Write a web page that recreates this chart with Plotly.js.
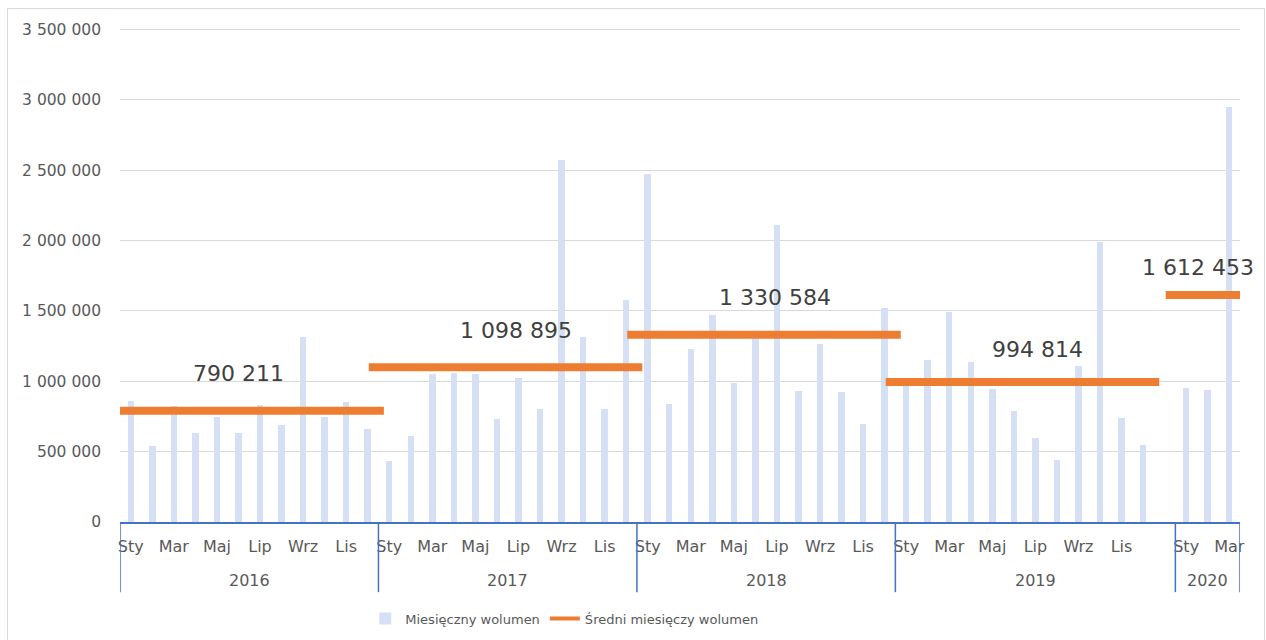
<!DOCTYPE html>
<html><head><meta charset="utf-8">
<script src="https://cdn.plot.ly/plotly-3.0.1.min.js"></script>
<style>
html,body{margin:0;padding:0;background:#fff}
#chart{width:1266px;height:640px}
#frame{position:absolute;left:7px;top:8px;width:1256px;height:640px;border:1px solid #d9d9d9;pointer-events:none}
</style>
</head><body><div id="chart"></div><div id="frame"></div>
<script>
const years = ['2016', '2017', '2018', '2019', '2020'];
const monthsFull = ['Sty', 'Lut', 'Mar', 'Kwi', 'Maj', 'Cze', 'Lip', 'Sie', 'Wrz', 'Paź', 'Lis', 'Gru'];
const months2019 = ['Sty', 'Lut', 'Mar', 'Kwi', 'Maj', 'Cze', 'Lip', 'Sie', 'Wrz', 'Paź', 'Lis', 'Gru', ''];
const months2020 = ['Sty', 'Lut', 'Mar'];

const vol2016 = [860000, 540000, 825000, 631000, 745000, 635000, 834000, 690000, 1318000, 745000, 851000, 661000];
const vol2017 = [436000, 614000, 1055000, 1062000, 1055000, 729000, 1026000, 805000, 2574000, 1312000, 800000, 1574000];
const vol2018 = [2471000, 841000, 1229000, 1474000, 991000, 1340000, 2110000, 931000, 1264000, 926000, 693000, 1519000];
const vol2019 = [970000, 1152000, 1491000, 1134000, 943000, 788000, 598000, 443000, 1109000, 1991000, 741000, 550000, null];
const vol2020 = [955000, 936000, 2950000];

const avgVolume = [790211, 1098895, 1330584, 994814, 1612453];
const avgLabels = ['790 211', '1 098 895', '1 330 584', '994 814', '1 612 453'];

const seriesNames = ['Miesięczny wolumen', 'Średni miesięczy wolumen'];

const groups = [
  {months: monthsFull, vals: vol2016},
  {months: monthsFull, vals: vol2017},
  {months: monthsFull, vals: vol2018},
  {months: months2019, vals: vol2019},
  {months: months2020, vals: vol2020}
];

let idx = 0;
const bx = [], by = [], tickvals = [], ticktext = [], lineX = [], lineY = [];
const dividers = [-0.5], yearCenters = [];
groups.forEach((g, gi) => {
  const start = idx;
  let lastData = start;
  g.months.forEach((m, i) => {
    if (g.vals[i] != null) { bx.push(idx); by.push(g.vals[i]); lastData = idx; }
    if (i % 2 === 0 && m) { tickvals.push(idx); ticktext.push(m); }
    idx++;
  });
  const end = idx - 1;
  dividers.push(idx - 0.5);
  lineX.push(start - 0.95, lastData + 0.75, null);
  lineY.push(avgVolume[gi], avgVolume[gi], null);
  yearCenters.push((start + end) / 2);
});
const total = idx;

const shapes = dividers.map(d => ({
  type: 'line', xref: 'x', yref: 'paper', x0: d, x1: d, y0: 0, y1: -0.142,
  line: {color: '#4472C4', width: 1.5}
}));

// small visual nudges of the value labels (in axis units) to match the original placement
const labelNudge = [-0.5, 0.4, 0.4, 0.1, -0.45];
const labelLift = [37, 37, 37, 32, 28];

const annotations = [];
years.forEach((yr, i) => {
  annotations.push({
    text: yr, xref: 'x', yref: 'paper', x: yearCenters[i], y: -0.118,
    showarrow: false, xanchor: 'center', yanchor: 'middle',
    font: {family: 'DejaVu Sans', size: 16, color: '#595959'}
  });
  annotations.push({
    text: avgLabels[i], xref: 'x', yref: 'y', x: yearCenters[i] + labelNudge[i], y: avgVolume[i],
    showarrow: false, xanchor: 'center', yanchor: 'middle', yshift: labelLift[i],
    font: {family: 'DejaVu Sans', size: 22, color: '#404040'}
  });
});

const traces = [
  {
    type: 'bar', x: bx, y: by, name: seriesNames[0], width: 0.3,
    marker: {color: '#D5E0F4'}, hoverinfo: 'skip'
  },
  {
    type: 'scatter', mode: 'lines', x: lineX, y: lineY, name: seriesNames[1],
    line: {color: '#ED7D31', width: 8}, connectgaps: false, hoverinfo: 'skip',
    showlegend: false
  },
  {
    type: 'scatter', mode: 'lines', x: [null], y: [null], name: seriesNames[1],
    line: {color: '#ED7D31', width: 4}, hoverinfo: 'skip', showlegend: true
  }
];

const layout = {
  width: 1266, height: 640,
  margin: {l: 120, r: 26, t: 28, b: 118, autoexpand: false},
  paper_bgcolor: '#ffffff', plot_bgcolor: '#ffffff',
  separators: ', ',
  font: {family: 'DejaVu Sans', color: '#595959'},
  showlegend: true,
  legend: {
    orientation: 'h', x: 0.219, xanchor: 'left', y: -0.165, yanchor: 'top',
    itemwidth: 30, traceorder: 'normal',
    font: {family: 'DejaVu Sans', size: 13, color: '#595959'}
  },
  xaxis: {
    range: [-0.5, total - 0.5], showgrid: false, zeroline: false,
    showline: true, linecolor: '#4472C4', linewidth: 1.5,
    tickmode: 'array', tickvals: tickvals, ticktext: ticktext, ticks: '',
    tickangle: 0, ticklabelstandoff: 9,
    tickfont: {family: 'DejaVu Sans', size: 16, color: '#595959'}
  },
  yaxis: {
    range: [0, 3510000], dtick: 500000, tick0: 0, tickformat: ',d',
    showgrid: true, gridcolor: '#D9D9D9', gridwidth: 1, zeroline: false,
    showline: false, ticks: '', ticklabelstandoff: 18,
    tickfont: {family: 'DejaVu Sans', size: 15.5, color: '#595959'}
  },
  shapes: shapes,
  annotations: annotations,
  bargap: 0
};

Plotly.newPlot('chart', traces, layout, {displayModeBar: false, staticPlot: true});
</script>
</body></html>
